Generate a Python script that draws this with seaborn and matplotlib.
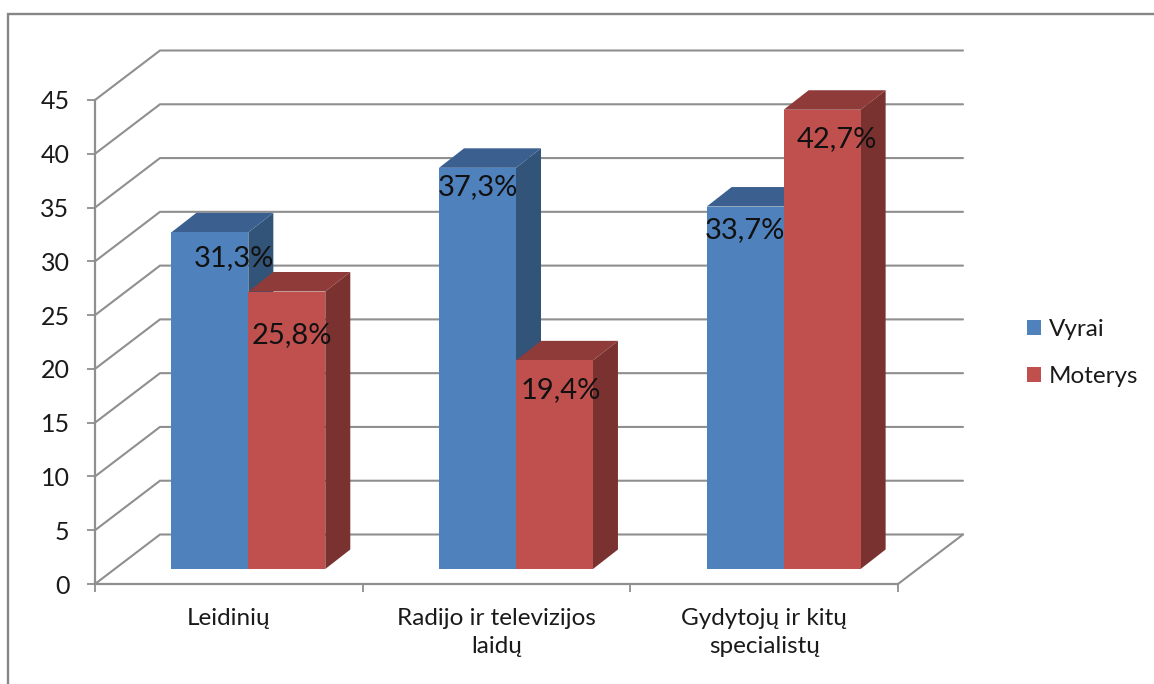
import matplotlib
matplotlib.use("Agg")
import matplotlib.pyplot as plt
from matplotlib.lines import Line2D
from matplotlib.patches import Polygon
import pandas as pd
import seaborn as sns

categories = ["Leidinių", "Radijo ir televizijos\nlaidų", "Gydytojų ir kitų\nspecialistų"]
series_names = ["Vyrai", "Moterys"]
vyrai = [31.3, 37.3, 33.7]
moterys = [25.8, 19.4, 42.7]
y_ticks = [0, 5, 10, 15, 20, 25, 30, 35, 40, 45]

# styling
colors = {"Vyrai": "#4F81BD", "Moterys": "#C0504D"}
top_colors = {"Vyrai": "#3B6090", "Moterys": "#8E3B39"}
side_colors = {"Vyrai": "#325479", "Moterys": "#7A3230"}
GRID = "#8F8F8F"
FRAME = "#868686"
TXT = "#1A1A1A"
W, H = 1154, 684
L, R, T, B = 95, 898, 100, 584
# data label shifts from front-face top centre, in pixels (x right, y down)
label_shift = {"Vyrai": [(24.5, 26), (0.5, 19), (-0.5, 23.5)],
               "Moterys": [(5.5, 43.5), (6, 30), (15, 29.5)]}

sns.set_style("white")
plt.rcParams["font.family"] = ["Lato", "DejaVu Sans"]

df = pd.DataFrame({
    "kategorija": categories * 2,
    "serija": [series_names[0]] * 3 + [series_names[1]] * 3,
    "reiksme": vyrai + moterys,
})

fig = plt.figure(figsize=(W / 100, H / 100), dpi=100, facecolor="white")
ax = fig.add_axes([L / W, 1 - B / H, (R - L) / W, (B - T) / H])
ax.patch.set_alpha(0)

sns.barplot(data=df, x="kategorija", y="reiksme", hue="serija",
            hue_order=series_names, palette=colors, saturation=1,
            width=0.575, gap=0, linewidth=0, ax=ax, legend=True)
ax.set_xlim(-0.5, 2.5)
ax.set_ylim(0, 45)
ax.set_xlabel("")
ax.set_ylabel("")

px_x = 3 / (R - L)       # data units per pixel
px_y = 45 / (B - T)

# back wall / side wall / floor
wall_dx, wall_dy = 65 * px_x, 49.5 * px_y
for v in y_ticks:
    ax.plot([-0.5, -0.5 + wall_dx, 2.5 + wall_dx], [v, v + wall_dy, v + wall_dy],
            color=GRID, lw=1.5, clip_on=False, zorder=1, solid_capstyle="round",
            solid_joinstyle="miter")
ax.plot([2.5, 2.5 + wall_dx], [0, wall_dy], color=GRID, lw=1.5, clip_on=False, zorder=1)

# 3D bars
base_dx, base_dy = 19.5 * px_x, 15 * px_y
depth_dx, depth_dy = 25 * px_x, 19.5 * px_y
z = 5
for name, cont in zip(series_names, ax.containers):
    for i, bar in enumerate(cont):
        bar.set_x(bar.get_x() + base_dx)
        bar.set_y(base_dy)
for i in range(len(categories)):
    for name, cont in zip(series_names, ax.containers):
        bar = cont[i]
        x0, w, y0, h = bar.get_x(), bar.get_width(), bar.get_y(), bar.get_height()
        x1, y1 = x0 + w, y0 + h
        bar.set_zorder(z + 2)
        ax.add_patch(Polygon([(x1, y0), (x1 + depth_dx, y0 + depth_dy),
                              (x1 + depth_dx, y1 + depth_dy), (x1, y1)],
                             facecolor=side_colors[name], edgecolor="none",
                             clip_on=False, zorder=z))
        ax.add_patch(Polygon([(x0, y1), (x0 + depth_dx, y1 + depth_dy),
                              (x1 + depth_dx, y1 + depth_dy), (x1, y1)],
                             facecolor=top_colors[name], edgecolor="none",
                             clip_on=False, zorder=z + 1))
        bar.set_clip_on(False)
        z += 3
        sx, sy = label_shift[name][i]
        ax.annotate(f"{h:.1f}%".replace(".", ","), xy=(x0 + w / 2, y1),
                    xytext=(sx, -sy), textcoords="offset pixels", ha="center",
                    va="center", fontsize=21, color="#111111", zorder=100,
                    annotation_clip=False)

# axes
for s in ("top", "right"):
    ax.spines[s].set_visible(False)
for s in ("left", "bottom"):
    ax.spines[s].set_color(GRID)
    ax.spines[s].set_linewidth(1.6)
    ax.spines[s].set_zorder(3)
ax.set_yticks(y_ticks)
ax.set_xticks([-0.5, 0.5, 1.5, 2.5], minor=True)
ax.set_xticks(range(3), categories)
ax.tick_params(axis="y", length=5.8, width=1.3, color=GRID, pad=12.5, labelsize=18, labelcolor=TXT, left=True)
ax.tick_params(axis="x", which="major", length=0, pad=17, labelsize=17.5, labelcolor=TXT)
ax.tick_params(axis="x", which="minor", length=5.8, width=1.3, color=GRID, bottom=True)
for lab in ax.get_xticklabels():
    lab.set_linespacing(1.42)

# legend
handles, labels = ax.get_legend_handles_labels()
ax.legend(handles, labels, loc="upper left", bbox_to_anchor=(1027 / W, 1 - 319 / H),
          bbox_transform=fig.transFigure, frameon=False, fontsize=17.5,
          handlelength=0.58, handleheight=0.58, handletextpad=0.33,
          labelspacing=1.07, borderpad=0, borderaxespad=0, labelcolor=TXT)

# outer chart frame
fig.add_artist(Line2D([8 / W, 8 / W, 1], [0, 1 - 13.5 / H, 1 - 13.5 / H],
                      color=FRAME, lw=1.7, transform=fig.transFigure,
                      solid_joinstyle="miter"))

fig.savefig("out.png", dpi=100, facecolor="white")
